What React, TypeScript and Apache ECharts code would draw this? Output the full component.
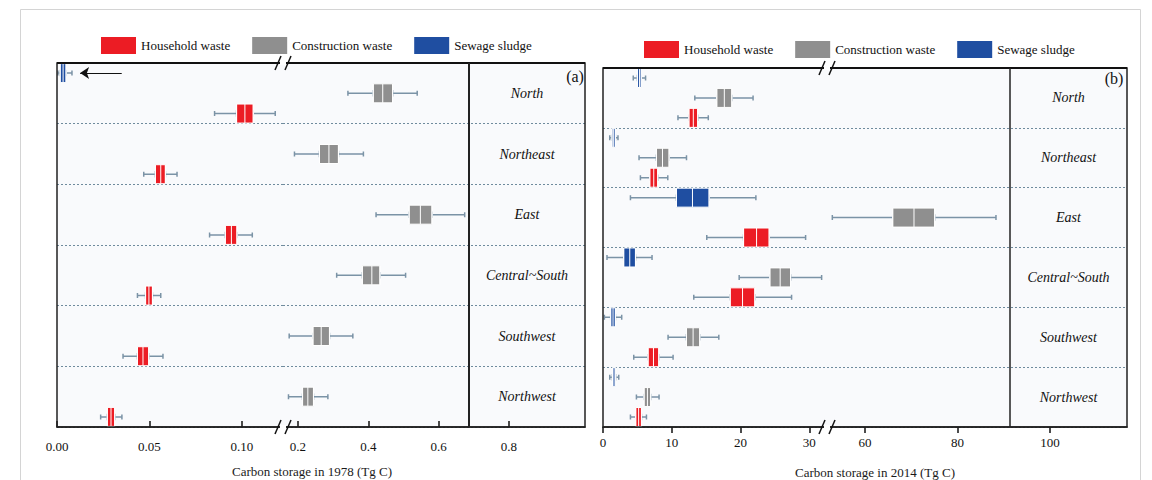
import React, { useEffect, useRef } from "react";
import * as echarts from "echarts";

// ---------- data ----------
const regions = ["North", "Northeast", "East", "Central~South", "Southwest", "Northwest"];
const wasteTypes = ["Household waste", "Construction waste", "Sewage sludge"];
const typeColors = ["#ec1c24", "#8f8f8f", "#1f4ea1"];
// row inside each region band: sludge top, construction middle, household bottom
const typeRows = [2, 1, 0];

// [min, Q1, median, Q3, max] per region (order of `regions`), Tg C
const household1978 = [
  [0.0852, 0.0971, 0.1016, 0.1061, 0.118],
  [0.0469, 0.0532, 0.0561, 0.0586, 0.0649],
  [0.0825, 0.091, 0.0943, 0.0973, 0.1056],
  [0.0435, 0.0479, 0.0497, 0.0516, 0.0561],
  [0.0357, 0.0435, 0.0465, 0.0496, 0.0573],
  [0.0236, 0.0272, 0.0292, 0.0312, 0.0351],
];
const construction1978 = [
  [0.342, 0.414, 0.441, 0.469, 0.539],
  [0.19, 0.261, 0.288, 0.315, 0.386],
  [0.422, 0.516, 0.548, 0.581, 0.674],
  [0.31, 0.383, 0.41, 0.433, 0.506],
  [0.175, 0.2425, 0.266, 0.2895, 0.356],
  [0.173, 0.213, 0.228, 0.244, 0.285],
];
const sludge1978 = [[0.0005, 0.0017, 0.0033, 0.0049, 0.0081], null, null, null, null, null];

const household2014 = [
  [10.9, 12.49, 13.13, 13.77, 15.31],
  [5.44, 6.8, 7.38, 7.96, 9.42],
  [15.09, 20.44, 22.33, 24.16, 29.46],
  [13.2, 18.49, 20.29, 22.08, 27.42],
  [4.47, 6.55, 7.34, 8.11, 10.19],
  [3.99, 4.76, 5.18, 5.59, 6.32],
];
const construction2014 = [
  [13.35, 16.54, 17.64, 18.73, 21.82],
  [5.24, 7.77, 8.65, 9.61, 12.14],
  [52.93, 65.99, 70.59, 75.07, 88.32],
  [19.8, 24.26, 25.76, 27.28, 31.79],
  [9.46, 12.14, 13.1, 14.07, 16.84],
  [4.86, 5.97, 6.46, 6.94, 8.15],
];
const sludge2014 = [
  [4.4, 5.0, 5.3, 5.56, 6.19],
  [0.98, 1.31, 1.55, 1.8, 2.18],
  [3.99, 10.68, 13.01, 15.43, 22.23],
  [0.58, 3.01, 3.89, 4.72, 7.13],
  [0.2, 1.12, 1.46, 1.8, 2.72],
  [0.98, 1.37, 1.6, 1.85, 2.29],
];

// axis tick labels
const leftTicks1 = [0, 0.05, 0.1];
const leftTicks2 = [0.2, 0.4, 0.6, 0.8];
const rightTicks1 = [0, 10, 20, 30];
const rightTicks2 = [60, 80, 100];

// annotation arrow (1978 panel, points at the sludge box)
const arrowFrom = 0.035;
const arrowTo = 0.0125;

// ---------- layout ----------
const FONT = "'Liberation Serif', 'Times New Roman', serif";
const L = { x0: 57, brk: 283, x1: 585, div: 469, top: 63, bottom: 427 };
const R = { x0: 603, brk: 827, x1: 1127, div: 1010, top: 68, bottom: 427 };
// broken-axis segments
const leftSeg1 = { min: 0, max: 0.1222 };
const leftSeg2 = { min: 0.1574, max: 1.0161 };
const rightSeg1 = { min: 0, max: 32.57 };
const rightSeg2 = { min: 51.78, max: 116.65 };

const WHISKER = "#7b93a6";

type Box = number[] | null;
function buildSeg(sets: Box[][], range: { min: number; max: number }) {
  const whisk: any[] = [];
  const box: any[] = [];
  sets.forEach((vals, t) => {
    vals.forEach((v, ri) => {
      if (!v) return;
      if (v[2] < range.min || v[2] > range.max) return;
      const y = ri * 3 + typeRows[t] + 0.5;
      whisk.push({ value: [y, v[0], v[1], v[2], v[3], v[4]] });
      box.push({
        value: [y, v[1], v[1], v[2], v[3], v[3]],
        itemStyle: { color: typeColors[t], borderColor: "#ffffff", borderWidth: 1 },
      });
    });
  });
  return { whisk, box };
}

function seriesPair(d: { whisk: any[]; box: any[] }, xi: number, yw: number, yb: number) {
  return [
    {
      type: "boxplot",
      name: "whiskers" + xi,
      layout: "vertical",
      xAxisIndex: xi,
      yAxisIndex: yw,
      boxWidth: [5, 5],
      itemStyle: { color: "rgba(0,0,0,0)", borderColor: WHISKER, borderWidth: 1.5 },
      emphasis: { disabled: true },
      z: 2,
      data: d.whisk,
    },
    {
      type: "boxplot",
      name: "boxes" + xi,
      layout: "vertical",
      xAxisIndex: xi,
      yAxisIndex: yb,
      boxWidth: [19, 19],
      itemStyle: { borderWidth: 1 },
      emphasis: { disabled: true },
      z: 3,
      data: d.box,
    },
  ];
}

function xAxis(gridIndex: number, range: any, ticks: number[], fmt: (v: number) => string, inside: boolean, margin: number) {
  return {
    type: "value",
    gridIndex,
    min: range.min,
    max: range.max,
    position: "bottom",
    axisLine: { show: true, onZero: false, lineStyle: { color: "#111", width: 1.5 } },
    axisTick: { show: true, inside, length: 6, customValues: ticks, lineStyle: { color: "#111", width: 1.5 } },
    axisLabel: { show: true, customValues: ticks, formatter: fmt, margin, fontFamily: FONT, fontSize: 13, color: "#111111" },
    splitLine: { show: false },
  };
}

function yWhisk(gridIndex: number) {
  return {
    type: "value",
    gridIndex,
    min: 0,
    max: 18,
    interval: 3,
    inverse: true,
    position: "left",
    axisLine: { show: false },
    axisTick: { show: false },
    axisLabel: { show: false },
    splitLine: { show: true, lineStyle: { color: "#6f8b9d", type: [2, 2], width: 1.2 } },
  };
}
function yBox(gridIndex: number) {
  return { type: "value", gridIndex, min: 0, max: 18, inverse: true, show: false };
}
function yLabels(gridIndex: number, P: any) {
  return {
    type: "category",
    gridIndex,
    data: regions,
    inverse: true,
    position: "right",
    axisLine: { show: false },
    axisTick: { show: false },
    splitLine: { show: false },
    axisLabel: {
      inside: true,
      margin: P.x1 - (P.div + P.x1) / 2,
      align: "center",
      fontFamily: FONT,
      fontStyle: "italic",
      fontSize: 14,
      color: "#111",
    },
  };
}

function breakMark(x: number, y: number) {
  const s = { stroke: "#111", lineWidth: 1.5 };
  return [
    { type: "rect", z: 100, shape: { x: x - 3, y: y - 2, width: 6, height: 4 }, style: { fill: "#ffffff" } },
    { type: "line", z: 101, shape: { x1: x - 8, y1: y + 7, x2: x - 2, y2: y - 7 }, style: s },
    { type: "line", z: 101, shape: { x1: x + 2, y1: y + 7, x2: x + 8, y2: y - 7 }, style: s },
  ];
}

function panelFrame(P: any, divWidth: number) {
  return [
    {
      type: "rect",
      z: 90,
      shape: { x: P.x0, y: P.top, width: P.x1 - P.x0, height: P.bottom - P.top },
      style: { fill: "none", stroke: "#222", lineWidth: 1.5 },
    },
    { type: "line", z: 91, shape: { x1: P.x0, y1: P.top, x2: P.x1, y2: P.top }, style: { stroke: "#111", lineWidth: 2 } },
    { type: "line", z: 91, shape: { x1: P.div, y1: P.top, x2: P.div, y2: P.bottom }, style: { stroke: "#222", lineWidth: divWidth } },
    ...breakMark(P.brk, P.top),
    ...breakMark(P.brk, P.bottom),
  ];
}

function buildOption() {
  const sets1978 = [household1978, construction1978, sludge1978];
  const sets2014 = [household2014, construction2014, sludge2014];
  const l1 = buildSeg(sets1978, leftSeg1);
  const l2 = buildSeg(sets1978, leftSeg2);
  const r1 = buildSeg(sets2014, rightSeg1);
  const r2 = buildSeg(sets2014, rightSeg2);

  const gridBase = { show: true, backgroundColor: "#f9fafc", borderWidth: 0 };
  const legendBase = {
    data: wasteTypes,
    icon: "rect",
    itemWidth: 35,
    itemHeight: 17,
    itemGap: 22,
    padding: 0,
    selectedMode: false,
    textStyle: { fontFamily: FONT, fontSize: 13, color: "#111111" },
  };

  return {
    animation: false,
    backgroundColor: "#ffffff",
    legend: [
      { ...legendBase, left: 101, top: 37 },
      { ...legendBase, left: 644, top: 41 },
    ],
    grid: [
      { ...gridBase, left: L.x0, top: L.top, width: L.brk - L.x0, height: L.bottom - L.top },
      { ...gridBase, left: L.brk, top: L.top, width: L.x1 - L.brk, height: L.bottom - L.top },
      { ...gridBase, left: R.x0, top: R.top, width: R.brk - R.x0, height: R.bottom - R.top },
      { ...gridBase, left: R.brk, top: R.top, width: R.x1 - R.brk, height: R.bottom - R.top },
    ],
    xAxis: [
      xAxis(0, leftSeg1, leftTicks1, (v: number) => v.toFixed(2), true, 13),
      xAxis(1, leftSeg2, leftTicks2, (v: number) => v.toFixed(1), true, 13),
      xAxis(2, rightSeg1, rightTicks1, (v: number) => String(v), false, 9),
      xAxis(3, rightSeg2, rightTicks2, (v: number) => String(v), false, 9),
    ],
    yAxis: [
      yWhisk(0), yBox(0),
      yWhisk(1), yBox(1), yLabels(1, L),
      yWhisk(2), yBox(2),
      yWhisk(3), yBox(3), yLabels(3, R),
    ],
    series: [
      ...wasteTypes.map((n, i) => ({
        type: "scatter",
        name: n,
        xAxisIndex: 0,
        yAxisIndex: 0,
        data: [],
        itemStyle: { color: typeColors[i], opacity: 1 },
      })),
      ...seriesPair(l1, 0, 0, 1),
      ...seriesPair(l2, 1, 2, 3),
      ...seriesPair(r1, 2, 5, 6),
      ...seriesPair(r2, 3, 7, 8),
      {
        type: "line",
        name: "arrow",
        xAxisIndex: 0,
        yAxisIndex: 0,
        data: [],
        silent: true,
        markLine: {
          silent: true,
          symbol: ["none", "arrow"],
          symbolSize: 9,
          label: { show: false },
          lineStyle: { color: "#111", width: 1, type: "solid" },
          data: [[{ coord: [arrowFrom, 0.5] }, { coord: [arrowTo, 0.5] }]],
        },
      },
    ],
    graphic: [
      {
        type: "rect",
        z: 0,
        silent: true,
        shape: { x: 20.5, y: 9.5, width: 1120, height: 490 },
        style: { fill: "none", stroke: "#d4d4d4", lineWidth: 1 },
      },
      ...panelFrame(L, 2),
      ...panelFrame(R, 1.5),
      {
        type: "text", z: 100, x: 575, y: 76,
        style: { text: "(a)", fontFamily: FONT, fontSize: 16, fill: "#111", textAlign: "center", textVerticalAlign: "middle" },
      },
      {
        type: "text", z: 100, x: 1114, y: 78,
        style: { text: "(b)", fontFamily: FONT, fontSize: 16, fill: "#111", textAlign: "center", textVerticalAlign: "middle" },
      },
      {
        type: "text", z: 100, x: 312, y: 471,
        style: { text: "Carbon storage in 1978 (Tg C)", fontFamily: FONT, fontSize: 13, fill: "#1a1a1a", textAlign: "center", textVerticalAlign: "middle" },
      },
      {
        type: "text", z: 100, x: 875, y: 472,
        style: { text: "Carbon storage in 2014 (Tg C)", fontFamily: FONT, fontSize: 13, fill: "#1a1a1a", textAlign: "center", textVerticalAlign: "middle" },
      },
    ],
  };
}

export default function App() {
  const ref = useRef<HTMLDivElement>(null);
  useEffect(() => {
    if (!ref.current) return;
    const chart = echarts.init(ref.current, null, { renderer: "svg" });
    chart.setOption(buildOption() as any);
    return () => chart.dispose();
  }, []);
  return (
    <div
      ref={ref}
      style={{ position: "absolute", left: 0, top: 0, width: 1152, height: 480, background: "#ffffff" }}
    />
  );
}
